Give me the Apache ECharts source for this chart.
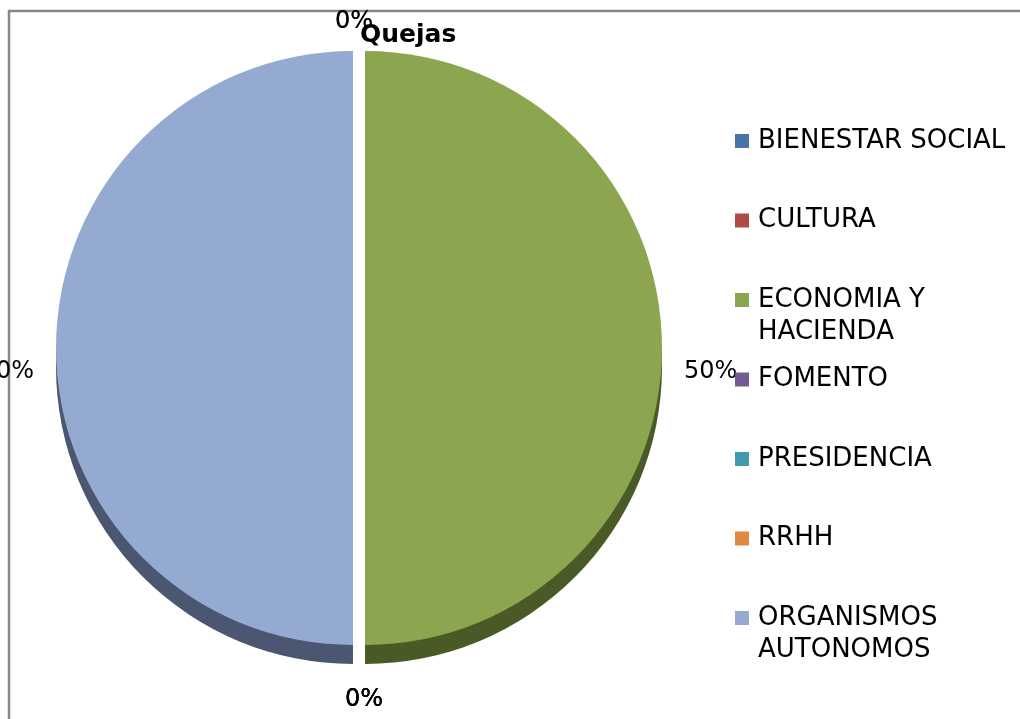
<!DOCTYPE html>
<html>
<head>
<meta charset="utf-8">
<script src="https://cdn.jsdelivr.net/npm/echarts@6/dist/echarts.min.js"></script>
<style>
html, body { margin: 0; padding: 0; background: #fff; }
#quejasPie { width: 1020px; height: 719px; }
</style>
</head>
<body>
<div id="quejasPie"></div>
<script>
// datos del gráfico
const areas = ['BIENESTAR SOCIAL', 'CULTURA', 'ECONOMIA Y\nHACIENDA', 'FOMENTO', 'PRESIDENCIA', 'RRHH', 'ORGANISMOS\nAUTONOMOS'];
const quejas = [0, 0, 1, 0, 0, 0, 1];
const colores = ['#4A72A8', '#B04A45', '#8CA64F', '#735A94', '#4499AE', '#E0883F', '#95AAD1'];
const coloresLado = ['#2B4466', '#6A2C29', '#4A5A27', '#45365A', '#295C69', '#874F24', '#4B5670'];

let myChart = echarts.init(document.getElementById('quejasPie'));

function buildData(cols) {
    return areas.map((a, i) => ({
        name: a,
        value: quejas[i],
        selected: quejas[i] > 0,
        itemStyle: { color: cols[i] }
    }));
}

const font = 'DejaVu Sans, Verdana, sans-serif';

myChart.setOption({
    backgroundColor: '#fff',
    animation: false,
    title: {
        text: 'Quejas',
        left: 360,
        top: 23,
        padding: 0,
        textStyle: { fontFamily: font, fontSize: 25, fontWeight: 'bold', color: '#000' }
    },
    legend: {
        orient: 'vertical',
        left: 735,
        top: 93,
        padding: 0,
        itemGap: -16.5,
        itemWidth: 14,
        itemHeight: 14,
        icon: 'rect',
        selectedMode: false,
        data: areas,
        // el cuadro queda alineado con la primera línea
        formatter: function (name) {
            return name.indexOf('\n') >= 0 ? '\n' + name : '\n' + name + '\n';
        },
        textStyle: { fontFamily: font, fontSize: 26, lineHeight: 32, color: '#000', padding: [0, 0, 0, 4] }
    },
    graphic: [{
        type: 'rect',
        silent: true,
        z: -10,
        shape: { x: 9, y: 11, width: 1100, height: 800 },
        style: { fill: 'none', stroke: '#878787', lineWidth: 2.5 }
    }],
    series: [
        {
            name: 'Quejas',
            type: 'pie',
            z: 3,
            center: [359, 348],
            radius: 297,
            startAngle: 90,
            clockwise: true,
            selectedMode: 'multiple',
            selectedOffset: 6,
            avoidLabelOverlap: false,
            emphasis: { disabled: true },
            label: {
                show: true,
                position: 'outside',
                formatter: '{d}%',
                fontFamily: font,
                fontSize: 24,
                color: '#000',
                distanceToLabelLine: 5
            },
            labelLine: { show: false, length: 17, length2: 0 },
            labelLayout: function (p) {
                if (quejas[p.dataIndex] !== 0) return { dy: 24 };
                const below = p.labelRect.y > 348;
                return { align: 'center', dy: below ? 38 : -12 };
            },
            data: buildData(colores)
        },
        {
            // lado 3D
            name: 'lado',
            type: 'pie',
            z: 2,
            silent: true,
            center: [359, 367],
            radius: 297,
            startAngle: 90,
            clockwise: true,
            selectedMode: 'multiple',
            selectedOffset: 6,
            label: { show: false },
            labelLine: { show: false },
            emphasis: { disabled: true },
            data: buildData(coloresLado)
        }
    ]
});

window.addEventListener('resize', function () {
    myChart.resize();
});
</script>
</body>
</html>
